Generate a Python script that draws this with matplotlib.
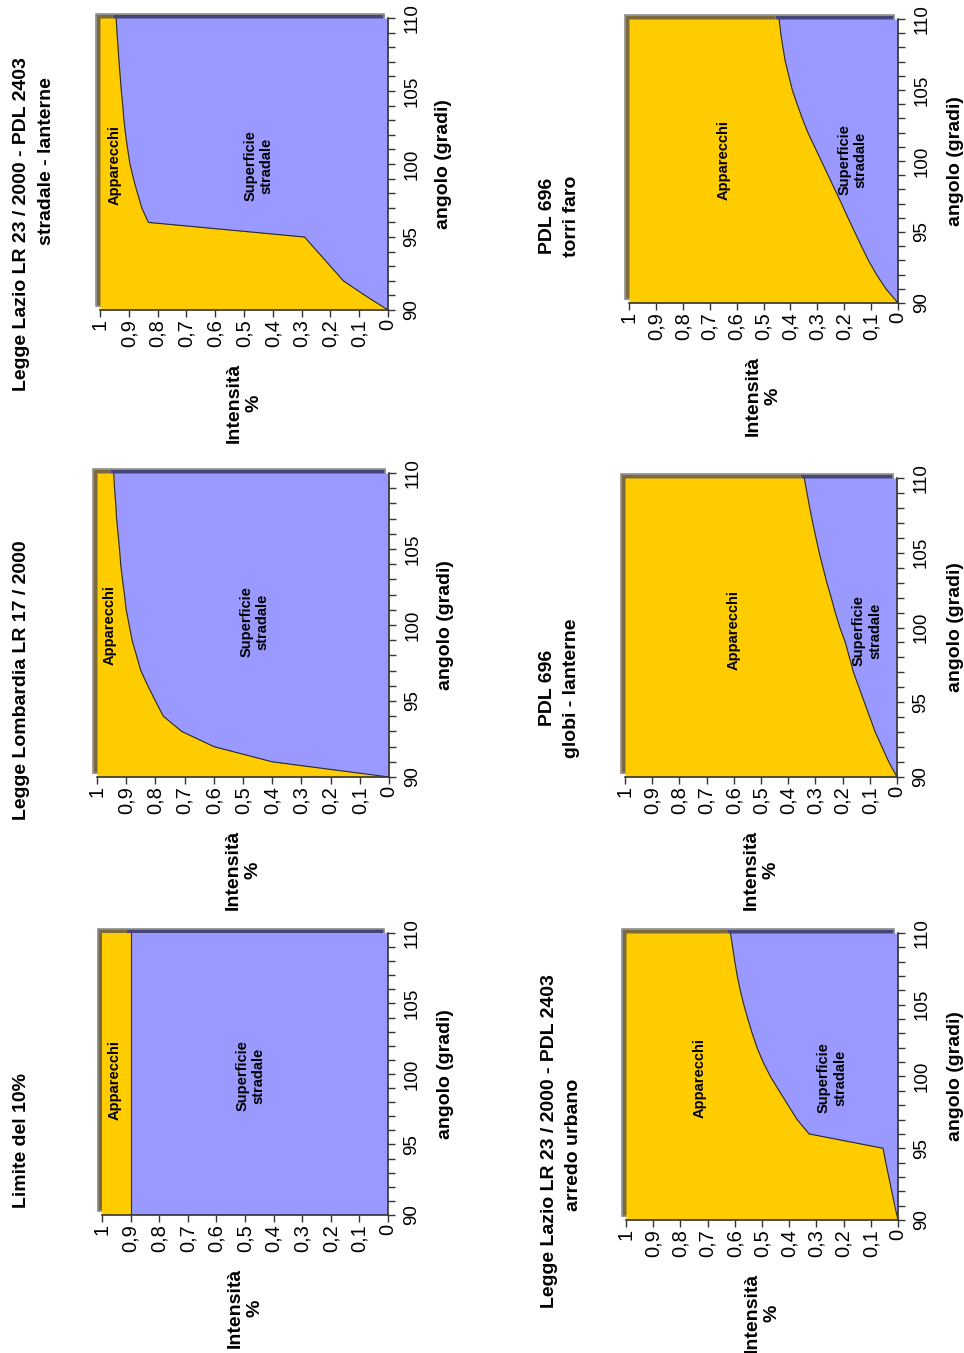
import matplotlib
matplotlib.use("Agg")
import matplotlib.pyplot as plt
from matplotlib import transforms
from matplotlib.patches import Rectangle

plt.rcParams['font.family'] = ['Liberation Sans', 'DejaVu Sans']

W, H = 964, 1353

# data: angle (gradi) and share of "Superficie stradale" at each angle
angoli = [90, 91, 92, 93, 94, 95, 96, 97, 98, 99, 100,
          101, 102, 103, 104, 105, 106, 107, 108, 109, 110]
limite_10 = [0.9, 0.9, 0.9, 0.9, 0.9, 0.9, 0.9, 0.9, 0.9, 0.9, 0.9,
             0.9, 0.9, 0.9, 0.9, 0.9, 0.9, 0.9, 0.9, 0.9, 0.9]
lombardia = [0, 0.40, 0.60, 0.71, 0.773, 0.80, 0.826, 0.85, 0.865, 0.88, 0.89,
             0.90, 0.906, 0.913, 0.919, 0.923, 0.928, 0.933, 0.936, 0.94, 0.943]
lazio_stradale = [0, 0.08, 0.155, 0.20, 0.245, 0.29, 0.832, 0.855, 0.87, 0.884, 0.896,
                  0.904, 0.911, 0.917, 0.921, 0.926, 0.93, 0.934, 0.9375, 0.941, 0.944]
lazio_arredo = [0, 0.012, 0.023, 0.034, 0.045, 0.055, 0.327, 0.371, 0.404, 0.437, 0.469,
                0.496, 0.518, 0.536, 0.552, 0.567, 0.58, 0.591, 0.60, 0.608, 0.616]
pdl_globi = [0, 0.03, 0.055, 0.08, 0.10, 0.12, 0.14, 0.16, 0.175, 0.19, 0.21,
             0.227, 0.242, 0.258, 0.272, 0.286, 0.298, 0.31, 0.321, 0.331, 0.341]
pdl_torri = [0, 0.045, 0.08, 0.11, 0.136, 0.161, 0.186, 0.21, 0.235, 0.26, 0.285,
             0.31, 0.335, 0.356, 0.375, 0.393, 0.406, 0.419, 0.428, 0.436, 0.442]

int_ticks = [0, 0.1, 0.2, 0.3, 0.4, 0.5, 0.6, 0.7, 0.8, 0.9, 1]
int_labels = ["0", "0,1", "0,2", "0,3", "0,4", "0,5", "0,6", "0,7", "0,8", "0,9", "1"]
ang_ticks = [90, 95, 100, 105, 110]

GIALLO = '#FFCC00'
BLU = '#9999FF'
GIALLO_SCURO = '#7d6a3c'
BLU_SCURO = '#45457a'

# (values, title lines, frame px l r t b, angolo x, app pos, sup pos)
panels = [
    (limite_10, [("Limite del 10%", 22, 1140)], (102, 388, 933, 1215), 445,
     (0.955, 99.6), (0.48, 99.9)),
    (lombardia, [("Legge Lombardia LR 17 / 2000", 22, 680)], (97, 389, 473, 777), 445,
     (0.955, 100.0), (0.46, 100.2)),
    (lazio_stradale, [("Legge Lazio LR 23 / 2000 - PDL 2403", 22, 224),
                      ("stradale - lanterne", 47, 161)], (100, 388, 18, 310), 443,
     (0.948, 99.9), (0.45, 99.9)),
    (lazio_arredo, [("Legge Lazio LR 23 / 2000 - PDL 2403", 550, 1141),
                    ("arredo urbano", 573, 1145)], (626, 898, 933, 1220), 955,
     (0.728, 99.9), (0.243, 99.9)),
    (pdl_globi, [("PDL 696", 547, 688), ("globi - lanterne", 572, 688)],
     (625, 897, 478, 777), 955, (0.60, 99.8), (0.11, 99.8)),
    (pdl_torri, [("PDL 696", 547, 216), ("torri faro", 572, 216)],
     (629, 898, 19, 303), 955, (0.647, 100.1), (0.17, 100.1)),
]

fig = plt.figure(figsize=(W / 100, H / 100), dpi=100)


def ftext(x, y, s, **kw):
    fig.text(x / W, 1 - y / H, s, rotation=90, ha='center', va='center', **kw)


for vals, titles, (l, r, t, b), ang_x, app_pos, sup_pos in panels:
    ax = fig.add_axes([l / W, 1 - b / H, (r - l) / W, (b - t) / H])
    ax.set_xlim(1, 0)
    ax.set_ylim(90, 110)

    # 3D depth: shifted copy behind the front face
    off = transforms.offset_copy(ax.transData, fig=fig, x=-4, y=4, units='dots')
    ax.fill_betweenx(angoli, vals, 1, color=GIALLO_SCURO, lw=0, transform=off,
                     clip_on=False, zorder=0.5)
    ax.fill_betweenx(angoli, 0, vals, color=BLU_SCURO, lw=0, transform=off,
                     clip_on=False, zorder=0.5)
    ax.add_patch(Rectangle((1, 90), -1, 20, fill=False, edgecolor='#8c8c8c', lw=1.2,
                           transform=off, clip_on=False, zorder=0.6))

    ax.fill_betweenx(angoli, 0, vals, color=BLU, lw=0, zorder=1)
    ax.fill_betweenx(angoli, vals, 1, color=GIALLO, lw=0, zorder=1)
    ax.plot(vals, angoli, color='#2a2a2a', lw=0.8, zorder=2)

    for side in ['top', 'left']:
        ax.spines[side].set_visible(False)
    for side in ['bottom', 'right']:
        ax.spines[side].set_color('#333333')
        ax.spines[side].set_linewidth(1.2)

    ax.set_xticks(int_ticks)
    ax.set_xticklabels(int_labels, rotation=90, fontsize=14.5)
    ax.yaxis.tick_right()
    ax.set_yticks(ang_ticks)
    ax.set_yticks(angoli, minor=True)
    ax.set_yticklabels([str(a) for a in ang_ticks], rotation=90, va='center', fontsize=13.5)
    ax.tick_params(axis='x', length=5, width=1, pad=1.5, color='#333333')
    ax.tick_params(axis='y', which='both', length=5, width=1, pad=6, color='#333333')

    ax.text(app_pos[0], app_pos[1], "Apparecchi", rotation=90, ha='center', va='center',
            fontsize=10.5, fontweight='bold', zorder=3)
    ax.text(sup_pos[0], sup_pos[1], "Superficie\nstradale", rotation=90, ha='center',
            va='center', fontsize=10.5, fontweight='bold', zorder=3)

    for s, x, y in titles:
        ftext(x, y, s, fontsize=14, fontweight='bold')
    ftext(ang_x, (t + b) / 2, "angolo (gradi)", fontsize=14, fontweight='bold')
    ftext((l + r) / 2, b + 93, "Intensità\n%", fontsize=14, fontweight='bold')

fig.savefig("out.png", dpi=100)
